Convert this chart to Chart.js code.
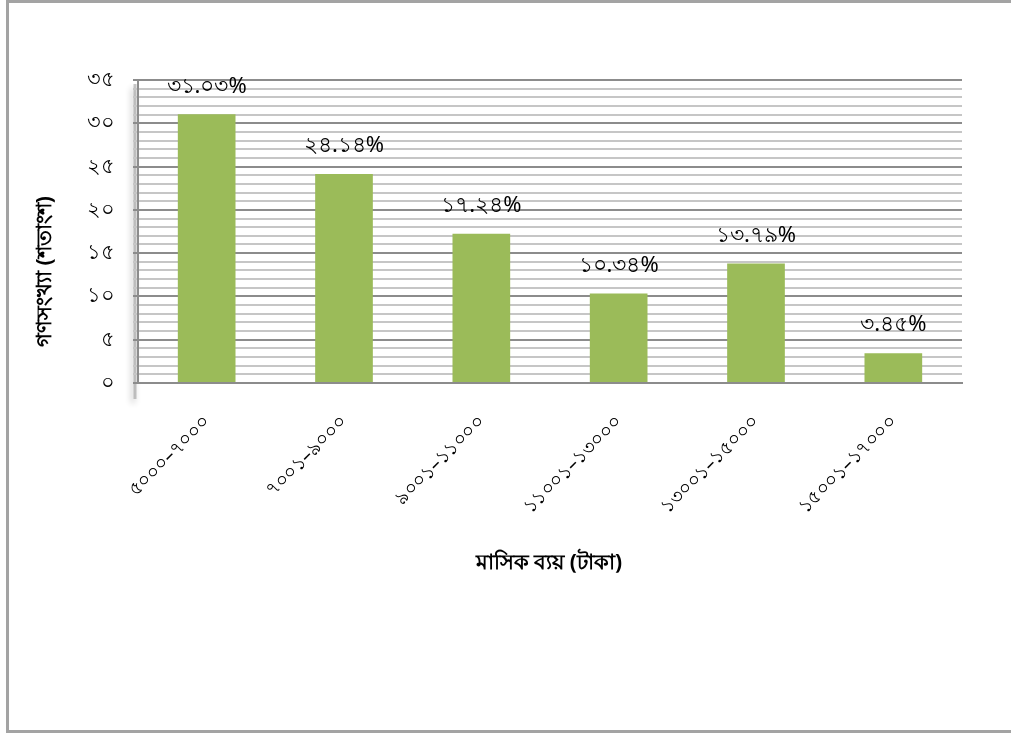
<!DOCTYPE html>
<html lang="bn">
<head>
<meta charset="utf-8">
<title>মাসিক ব্যয়</title>
<script src="https://cdn.jsdelivr.net/npm/chart.js@4.4.1/dist/chart.umd.min.js"></script>
<style>
    html, body { margin: 0; padding: 0; background: #fff; }
    #wrap { position: relative; width: 1011px; height: 733px; overflow: hidden; }
    #frame {
        position: absolute; left: 6px; top: 0; width: 1020px; height: 727px;
        border: 3px solid #a3a3a3; pointer-events: none;
    }
    canvas { position: absolute; left: 0; top: 0; }
</style>
</head>
<body>
<div id="wrap">
    <canvas id="expenseChart" width="1011" height="733"></canvas>
    <div id="frame"></div>
</div>
<script>
// Monthly expense groups (taka) and share of households (%)
const categories = ['৫০০০–৭০০০', '৭০০১–৯০০০', '৯০০১–১১০০০', '১১০০১–১৩০০০', '১৩০০১–১৫০০০', '১৫০০১–১৭০০০'];
const percentValues = [31.03, 24.14, 17.24, 10.34, 13.79, 3.45];
const yTickLabels = ['০', '৫', '১০', '১৫', '২০', '২৫', '৩০', '৩৫'];

const xTitle = 'মাসিক ব্যয় (টাকা)';
const yTitle = 'গণসংখ্যা (শতাংশ)';

const FONT = "'Noto Sans', 'DejaVu Sans', sans-serif";
const BAR_GREEN = '#9bbb59';

const bnDigits = ['০', '১', '২', '৩', '৪', '৫', '৬', '৭', '৮', '৯'];
function toBengali(str) {
    return String(str).replace(/[0-9]/g, d => bnDigits[+d]);
}

// Soft shadow behind the value axis, painted before the scales
const axisShadow = {
    id: 'axisShadow',
    beforeDraw(chart) {
        const { ctx, chartArea } = chart;
        ctx.save();
        ctx.strokeStyle = 'rgba(150,150,150,0.55)';
        ctx.lineWidth = 3;
        ctx.shadowColor = 'rgba(0,0,0,0.45)';
        ctx.shadowBlur = 6;
        ctx.shadowOffsetX = -2;
        ctx.shadowOffsetY = 4;
        ctx.beginPath();
        ctx.moveTo(chartArea.left - 3, chartArea.top + 4);
        ctx.lineTo(chartArea.left - 3, chartArea.bottom + 16);
        ctx.stroke();
        ctx.restore();
    }
};

// Percentage labels above each bar and the two axis titles
const barLabels = {
    id: 'barLabels',
    afterDatasetsDraw(chart) {
        const { ctx, chartArea } = chart;
        const meta = chart.getDatasetMeta(0);
        ctx.save();
        ctx.fillStyle = '#000';
        ctx.font = '22px ' + FONT;
        ctx.textAlign = 'center';
        ctx.textBaseline = 'middle';
        meta.data.forEach((bar, i) => {
            ctx.fillText(toBengali(percentValues[i].toFixed(2)) + '%', bar.x, bar.y - 28);
        });

        ctx.font = 'bold 21px ' + FONT;
        ctx.fillText(xTitle, (chartArea.left + chartArea.right) / 2 - 1, 563);

        ctx.translate(45, (chartArea.top + chartArea.bottom) / 2 + 40);
        ctx.rotate(-Math.PI / 2);
        ctx.font = 'bold 21px ' + FONT;
        ctx.fillText(yTitle, 0, 0);
        ctx.restore();
    }
};

const chart = new Chart(document.getElementById('expenseChart'), {
    type: 'bar',
    data: {
        labels: categories,
        datasets: [{
            data: percentValues,
            backgroundColor: BAR_GREEN,
            borderWidth: 0,
            categoryPercentage: 1,
            barPercentage: 0.42
        }]
    },
    options: {
        responsive: false,
        animation: false,
        layout: { padding: { top: 80, right: 49, bottom: 0, left: 0 } },
        plugins: {
            legend: { display: false },
            tooltip: { enabled: false }
        },
        scales: {
            x: {
                afterFit(scale) { scale.height = 733 - 383; },
                grid: { display: false },
                border: { color: '#8c8c8c', width: 2 },
                ticks: {
                    color: '#000',
                    font: { family: FONT, size: 19 },
                    minRotation: 45,
                    maxRotation: 45,
                    padding: 20,
                    autoSkip: false
                }
            },
            y: {
                min: 0,
                max: 35,
                afterFit(scale) { scale.width = 138; },
                border: { color: '#8c8c8c', width: 2 },
                grid: {
                    color: c => (c.tick && c.tick.value % 5 === 0) ? '#8c8c8c' : '#c6c6c6',
                    lineWidth: 2,
                    tickLength: 5,
                    tickColor: c => (c.tick && c.tick.value % 5 === 0) ? '#8c8c8c' : '#c6c6c6'
                },
                ticks: {
                    stepSize: 1,
                    autoSkip: false,
                    padding: 18,
                    color: '#000',
                    font: { family: FONT, size: 21 },
                    callback: v => (v % 5 === 0 ? yTickLabels[v / 5] : '')
                }
            }
        }
    },
    plugins: [axisShadow, barLabels]
});
</script>
</body>
</html>
